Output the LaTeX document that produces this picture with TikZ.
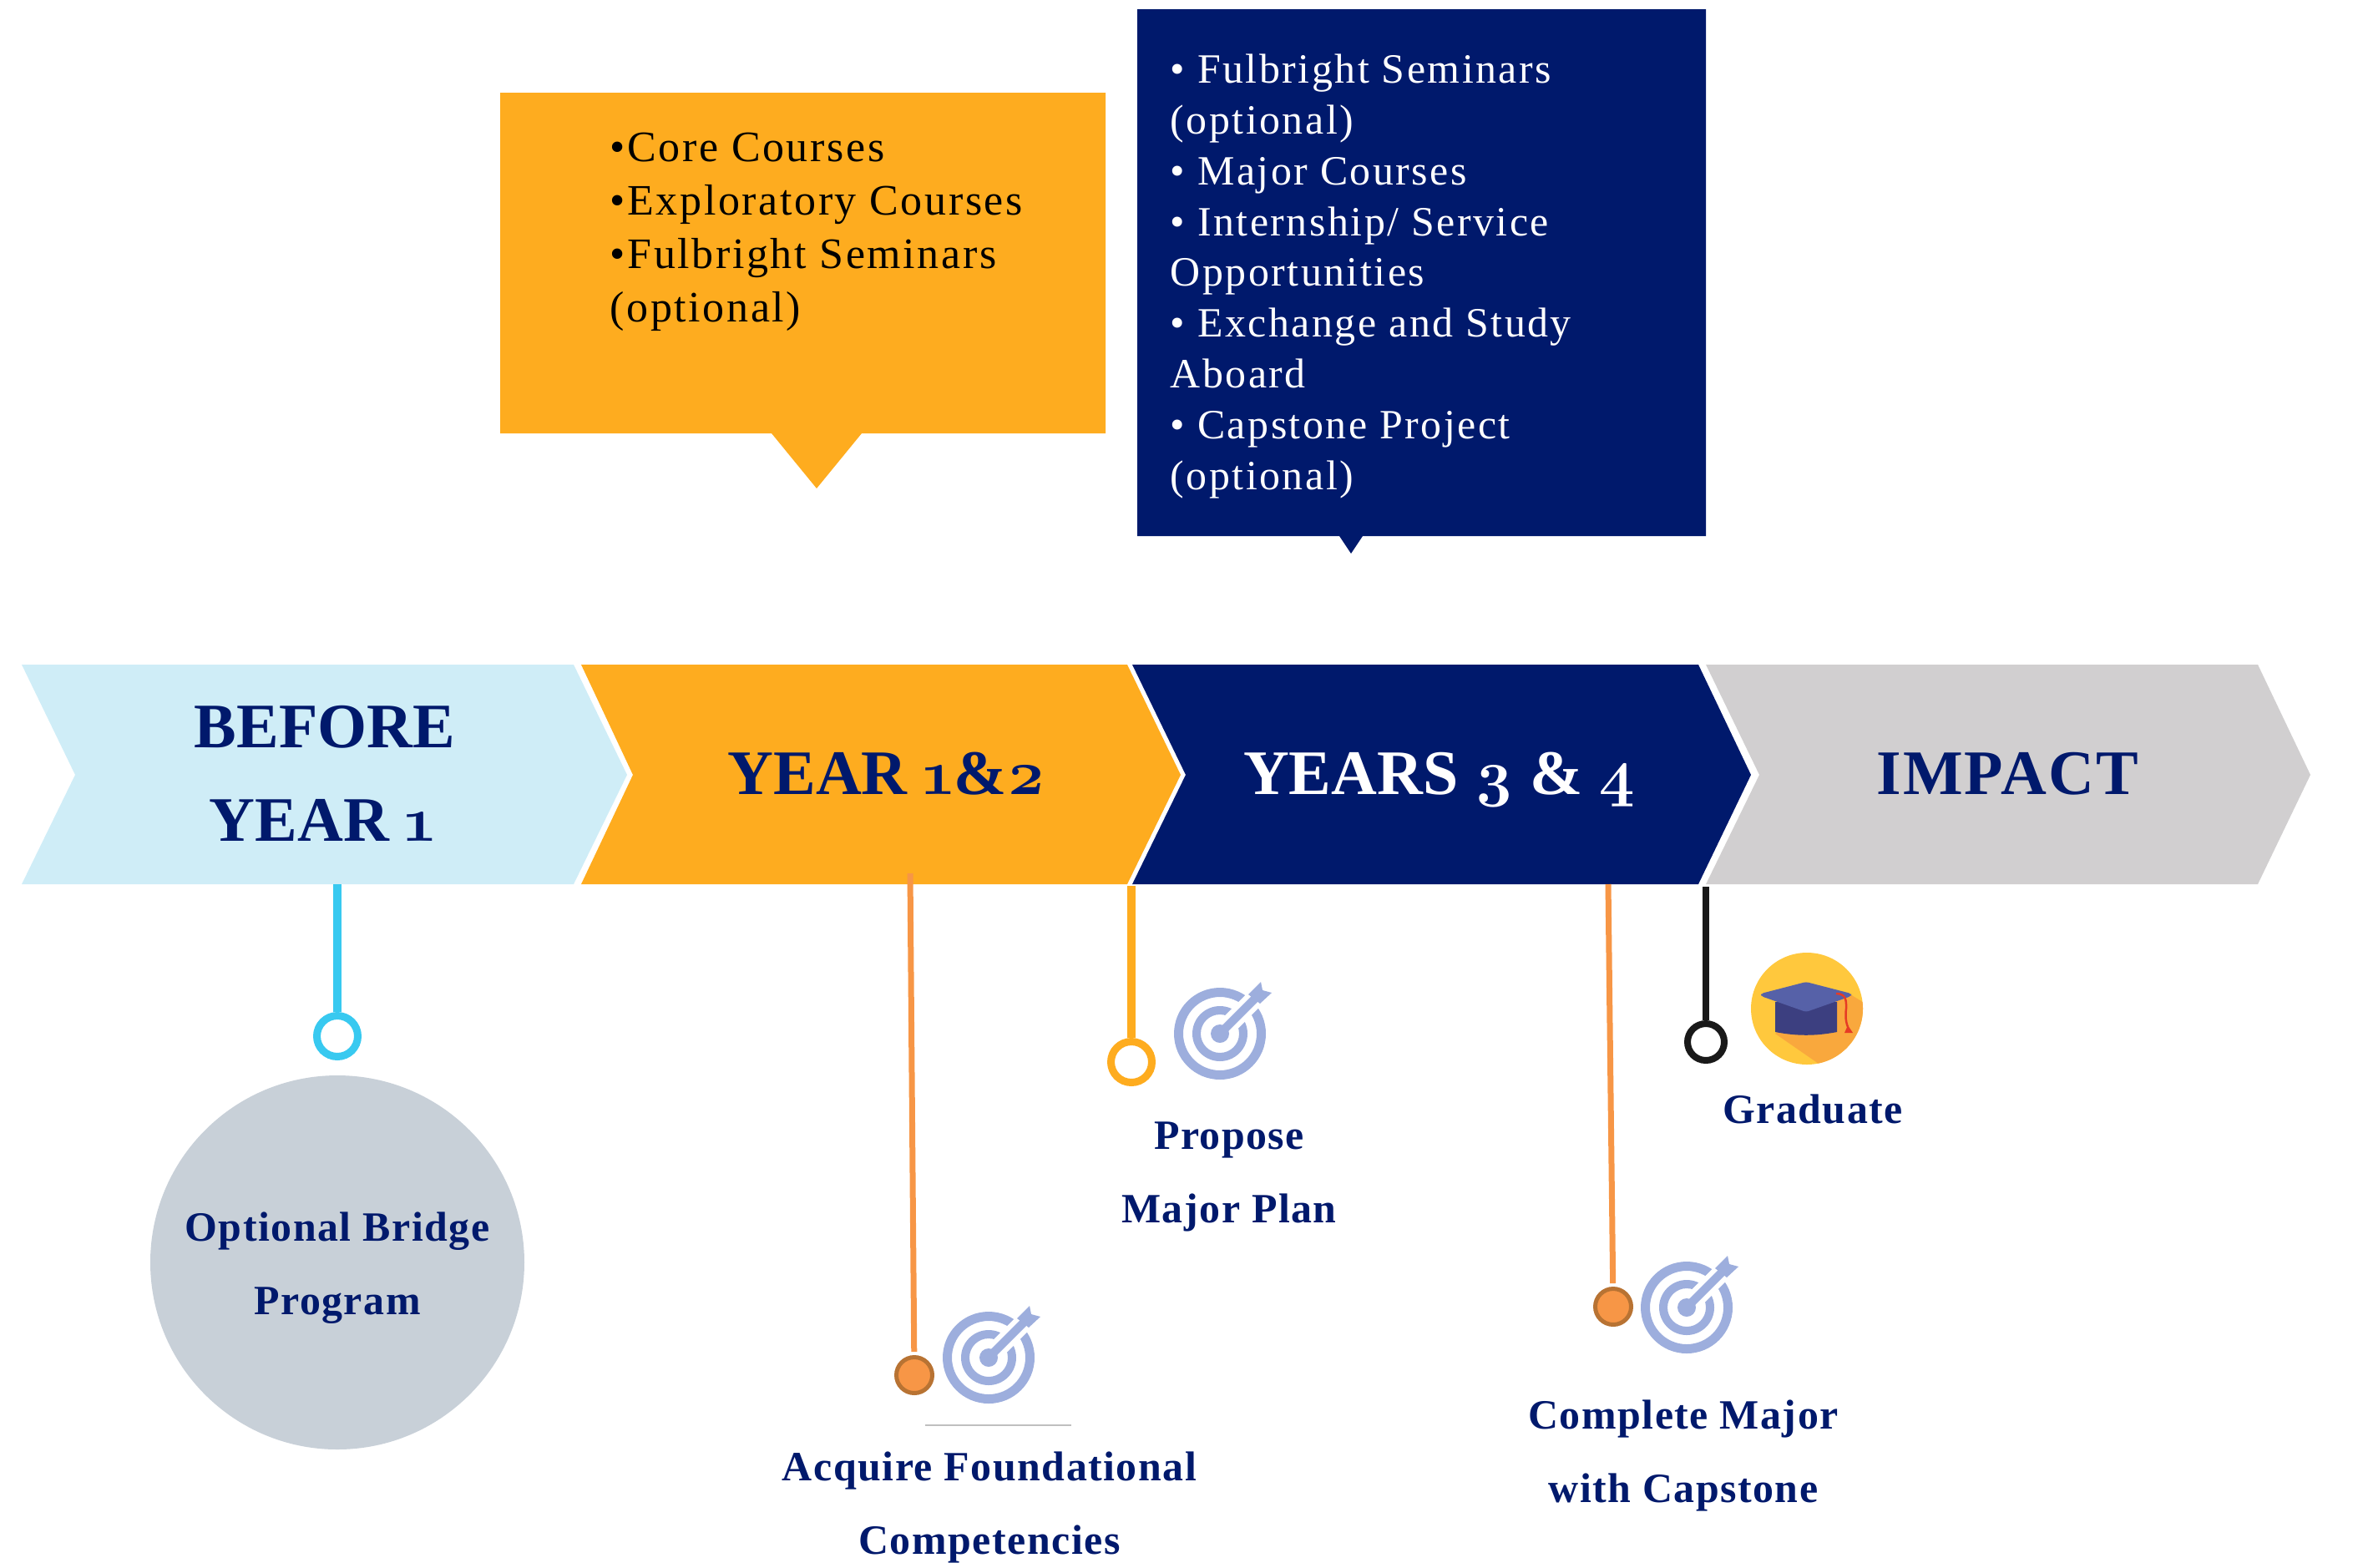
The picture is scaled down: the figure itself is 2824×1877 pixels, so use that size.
\documentclass[tikz,border=0pt]{standalone}
\usepackage{fontspec}
\usetikzlibrary{positioning}
\setmainfont{Liberation Serif}
\newfontfamily\sparsefont{Liberation Serif}[LetterSpace=5]
\newfontfamily\goalfont{Liberation Serif}[LetterSpace=3]
\newfontfamily\numfont{Latin Modern Roman}[Numbers=OldStyle]
\definecolor{navyband}{HTML}{00196C}
\definecolor{orangeband}{HTML}{FEAC1F}
\definecolor{paleband}{HTML}{CFEDF7}
\definecolor{greyband}{HTML}{D1CFD0}
\definecolor{bridgegrey}{HTML}{C8D0D8}
\definecolor{cyanpin}{HTML}{38C9F0}
\definecolor{pinorange}{HTML}{F79646}
\definecolor{pinbrown}{HTML}{B87333}
\definecolor{targetblue}{HTML}{9DAEDD}
\definecolor{capyellow}{HTML}{FFC83D}
\definecolor{capshadow}{HTML}{F9A83D}
\definecolor{capbase}{HTML}{3C3F80}
\definecolor{capboard}{HTML}{5661A8}
\definecolor{capred}{HTML}{E63B25}
\tikzset{
  bandtext/.style={anchor=base, inner sep=0pt, font=\fontsize{21.6pt}{32pt}\selectfont\bfseries},
  goaltext/.style={anchor=base, inner sep=0pt, align=center, text=navyband, font=\fontsize{14.2pt}{25pt}\selectfont\goalfont\bfseries},
  listtext/.style={anchor=base west, inner sep=0pt, align=left},
  ringpin/.style={circle, draw, fill=white, inner sep=0pt, minimum size=4.9mm, line width=0.9mm},
  dotpin/.style={circle, draw=pinbrown, fill=pinorange, inner sep=0pt, minimum size=4.3mm, line width=0.5mm},
  targetpic/.pic={
    \fill[targetblue, even odd rule] (0,0) circle (55) (0,0) circle (44);
    \fill[targetblue, even odd rule] (0,0) circle (33) (0,0) circle (23);
    \draw[white, line width=2.2mm] (0,0) -- (60,-60);
    \draw[targetblue, line width=1mm] (0,0) -- (42,-42);
    \fill[targetblue] (0,0) circle (11);
    \fill[targetblue] (34,-47) -- (49,-62) -- (51,-52) -- (62,-49) -- (48,-36) -- cycle;
  },
  cappic/.pic={
    \fill[capyellow] (0,0) circle (67);
    \begin{scope}
      \clip (0,0) circle (67);
      \fill[capshadow] (-38,30) -- (14,66) -- (70,66) -- (70,-6) -- (52,-17) -- (35,-17) -- cycle;
    \end{scope}
    \fill[capbase] (-38,-8) -- (36,-8) -- (36,28) .. controls (10,33) and (-12,33) .. (-38,28) -- cycle;
    \fill[capboard, rounded corners=0.3mm] (-55,-18) -- (-1,-32) -- (53,-18) -- (53,-15) -- (-1,4) -- (-55,-15) -- cycle;
    \draw[capred, line width=0.25mm] (35,-18) .. controls (48,-18) and (47,-8) .. (47,0) .. controls (46,8) and (46,14) .. (49,22);
    \fill[capred] (49,20) -- (45,29) -- (55,29) -- cycle;
  }
}

\begin{document}
\begin{tikzpicture}[x=0.1mm, y=-0.1mm]
  \useasboundingbox (0,0) rectangle (2824,1877);

  \fill[orangeband] (599,111) -- (1324,111) -- (1324,519) -- (1032,519) -- (978,585) -- (924,519) -- (599,519) -- cycle;
  \fill[navyband] (1362,11) -- (2043,11) -- (2043,642) -- (1632,642) -- (1618,663) -- (1604,642) -- (1362,642) -- cycle;
  \node[listtext, text=black, font=\fontsize{14.8pt}{18.2pt}\selectfont\sparsefont] (coreList) at (730,385)
    {•Core Courses\\•Exploratory Courses\\•Fulbright Seminars\\(optional)};
  \node[listtext, text=white, font=\fontsize{14.2pt}{17.3pt}\selectfont\sparsefont] (majorList) at (1401,586)
    {• Fulbright Seminars\\(optional)\\• Major Courses\\• Internship/ Service\\Opportunities\\• Exchange and Study\\Aboard\\• Capstone Project\\(optional)};

  \fill[paleband] (26,796) -- (687,796) -- (751,928) -- (687,1059) -- (26,1059) -- (90,928) -- cycle;
  \fill[orangeband] (696,796) -- (1350,796) -- (1414,928) -- (1350,1059) -- (696,1059) -- (758,928) -- cycle;
  \fill[navyband] (1356,796) -- (2034,796) -- (2097,928) -- (2034,1059) -- (1356,1059) -- (1420,928) -- cycle;
  \fill[greyband] (2043,796) -- (2704,796) -- (2767,928) -- (2704,1059) -- (2043,1059) -- (2107,928) -- cycle;

  \node[bandtext, text=navyband] (beforeBand) at (389,895) {BEFORE};
  \node[bandtext, text=navyband] (yearOneBand) at (386,1007) {YEAR {\numfont 1}};
  \node[bandtext, text=navyband] (yearsBand) at (1062,951) {YEAR {\numfont 1}\&{\numfont 2}};
  \node[bandtext, text=white] (laterBand) at (1724,951) {YEARS {\numfont 3} \& {\numfont 4}};
  \node[bandtext, text=navyband] (impactBand) at (2404,951) {\goalfont IMPACT};

  \coordinate (pinBefore) at (404,1059);
  \coordinate (pinCore) at (1090,1046);
  \coordinate (pinPropose) at (1355,1061);
  \coordinate (pinCapstone) at (1926,1059);
  \coordinate (pinImpact) at (2043,1062);

  \node[ringpin, draw=cyanpin] (ringBefore) at (404,1241) {};
  \node[dotpin] (dotCore) at (1095,1647) {};
  \node[ringpin, draw=orangeband] (ringPropose) at (1355,1272) {};
  \node[dotpin] (dotCapstone) at (1932,1565) {};
  \node[ringpin, draw=black!90, minimum size=4.4mm, line width=0.8mm] (ringImpact) at (2043,1248) {};

  \draw[cyanpin, line width=1mm] (pinBefore) -- (ringBefore);
  \draw[pinorange, line width=0.7mm, shorten >=0.4mm] (pinCore) -- (dotCore);
  \draw[orangeband, line width=1mm] (pinPropose) -- (ringPropose);
  \draw[pinorange, line width=0.7mm, shorten >=0.4mm] (pinCapstone) -- (dotCapstone);
  \draw[black!90, line width=0.8mm] (pinImpact) -- (ringImpact);

  \node[circle, fill=bridgegrey, inner sep=0pt, minimum size=44.8mm] (bridgeDisc) at (404,1512) {};
  \node[goaltext] (bridgeGoal) at (404,1574) {Optional Bridge\\Program};

  \pic at (1184,1626) {targetpic};
  \pic at (1461,1238) {targetpic};
  \pic at (2020,1566) {targetpic};
  \pic at (2164,1208) {cappic};

  \coordinate (ruleLeft) at (1108,1707);
  \coordinate (ruleRight) at (1283,1707);
  \draw[black!25, line width=0.15mm] (ruleLeft) -- (ruleRight);

  \node[goaltext] (coreGoal) at (1185,1861) {Acquire Foundational\\Competencies};
  \node[goaltext] (proposeGoal) at (1472,1464) {Propose\\Major Plan};
  \node[goaltext] (capstoneGoal) at (2016,1799) {Complete Major\\with Capstone};
  \node[goaltext] (impactGoal) at (2171,1345) {Graduate};
\end{tikzpicture}
\end{document}
